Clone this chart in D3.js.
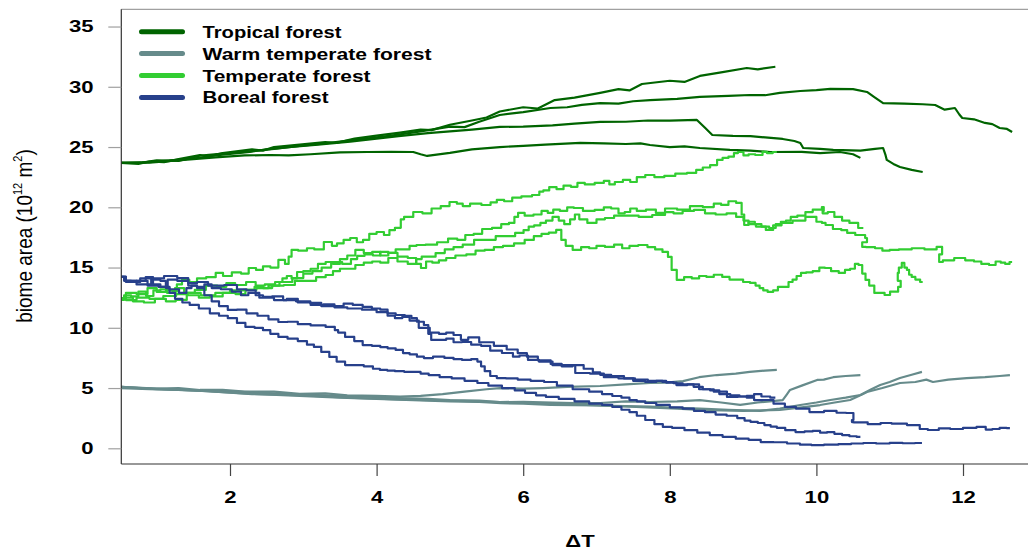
<!DOCTYPE html>
<html><head><meta charset="utf-8">
<script src="https://cdn.jsdelivr.net/npm/d3@7"></script>
<style>body{margin:0;background:#fff} svg{display:block}</style>
</head><body><svg id="c" width="1028" height="550"></svg>
<script>
// ---------- data ----------
const biomeNames = ["Tropical forest", "Warm temperate forest", "Temperate forest", "Boreal forest"];
const xTicks = [2, 4, 6, 8, 10, 12];
const yTicks = [0, 5, 10, 15, 20, 25, 30, 35];
const xLabel = "\u0394T";

const tropicalA = [[0.51,23.68],[0.75,23.6],[0.9,23.8],[1.1,23.75],[1.3,24.0],[1.59,24.34],[1.7,24.2],[1.9,24.5],[2.3,24.8],[2.45,24.7],[2.6,25.0],[2.95,25.2],[3.3,25.4],[3.45,25.35],[3.7,25.7],[4.0,25.95],[4.32,26.2],[4.6,26.45],[4.75,26.4],[5.0,26.85],[5.3,27.2],[5.5,27.45],[5.68,27.95],[6.0,28.3],[6.2,28.2],[6.43,28.9],[6.7,29.1],[7.05,29.5],[7.3,29.8],[7.45,29.7],[7.62,30.23],[8.0,30.5],[8.2,30.4],[8.41,30.9],[8.7,31.2],[9.05,31.56],[9.2,31.45],[9.44,31.66]];
const tropicalB = [[0.51,23.68],[0.8,23.7],[1.0,23.9],[1.3,23.85],[1.6,24.3],[1.9,24.45],[2.2,24.6],[2.6,24.85],[2.95,25.1],[3.3,25.3],[3.5,25.45],[3.8,25.65],[4.2,25.95],[4.6,26.3],[5.0,26.7],[5.2,26.65],[5.4,27.1],[5.68,27.66],[6.0,27.9],[6.37,28.24],[6.6,28.3],[6.8,28.5],[7.05,28.65],[7.3,28.6],[7.5,28.8],[7.73,28.9],[8.1,29.0],[8.41,29.16],[8.8,29.25],[9.09,29.32],[9.3,29.3],[9.5,29.5],[9.78,29.65],[10.0,29.72],[10.19,29.82],[10.5,29.8],[10.69,29.57],[10.8,29.1],[10.91,28.65],[11.2,28.6],[11.45,28.55],[11.62,28.49],[11.75,28.1],[11.89,28.24],[11.95,27.7],[11.99,27.41],[12.15,27.3],[12.3,27.0],[12.4,26.9],[12.5,26.58],[12.6,26.5],[12.67,26.25]];
const tropicalC = [[0.51,23.68],[0.9,23.75],[1.2,23.9],[1.5,24.05],[1.8,24.3],[2.27,24.6],[2.5,24.8],[2.8,25.0],[3.2,25.2],[3.64,25.45],[4.0,25.7],[4.3,25.9],[4.7,26.15],[5.0,26.3],[5.3,26.45],[5.68,26.67],[6.0,26.7],[6.4,26.8],[6.7,26.95],[7.05,27.08],[7.4,27.1],[7.7,27.2],[8.0,27.2],[8.37,27.25],[8.48,26.6],[8.58,26.0],[8.86,25.92],[9.1,25.9],[9.3,25.8],[9.54,25.67],[9.7,25.5],[9.78,25.34],[9.82,24.92],[10.05,24.85],[10.23,24.76],[10.6,24.7],[10.8,24.85],[10.91,24.92],[10.94,24.4],[10.96,23.93],[11.05,23.6],[11.14,23.34],[11.3,23.1],[11.45,22.93]];
const tropicalD = [[0.51,23.68],[0.9,23.7],[1.2,23.85],[1.5,24.0],[1.8,24.15],[2.2,24.3],[2.55,24.34],[2.8,24.3],[3.1,24.4],[3.5,24.55],[3.87,24.59],[4.2,24.6],[4.5,24.59],[4.6,24.4],[4.69,24.26],[5.0,24.51],[5.3,24.8],[5.68,25.0],[6.0,25.1],[6.3,25.2],[6.78,25.34],[7.1,25.3],[7.4,25.25],[7.6,25.3],[7.73,25.17],[8.0,25.0],[8.2,25.05],[8.41,24.92],[8.82,24.76],[9.1,24.7],[9.37,24.59],[9.8,24.6],[10.05,24.5],[10.32,24.59],[10.5,24.4],[10.6,24.1]];

const warmA = [[0.51,5.09],[0.8,5.0],[1.0,4.95],[1.3,5.0],[1.59,4.84],[1.9,4.85],[2.2,4.7],[2.6,4.7],[2.95,4.51],[3.3,4.55],[3.6,4.4],[4.0,4.35],[4.32,4.3],[4.6,4.35],[4.9,4.5],[5.2,4.7],[5.5,4.9],[5.68,5.0],[6.0,4.95],[6.27,5.0],[6.6,5.1],[7.05,5.17],[7.4,5.3],[7.73,5.42],[7.95,5.45],[8.18,5.58],[8.4,5.9],[8.64,6.08],[8.9,6.2],[9.09,6.34],[9.3,6.45],[9.46,6.5]];
const warmB = [[0.51,5.0],[0.9,4.9],[1.3,4.85],[1.8,4.75],[2.27,4.67],[2.8,4.5],[3.3,4.4],[3.8,4.3],[4.32,4.17],[4.7,4.1],[5.0,4.0],[5.4,3.95],[5.68,3.84],[6.0,3.85],[6.4,3.8],[6.7,3.75],[7.05,3.76],[7.4,3.9],[7.73,3.84],[8.1,3.9],[8.41,4.0],[8.7,3.8],[8.96,3.6],[9.2,3.8],[9.54,4.0],[9.6,4.5],[9.64,4.84],[9.8,5.2],[10.01,5.67],[10.1,5.7],[10.23,5.9],[10.4,6.0],[10.6,6.08]];
const warmC = [[0.51,5.09],[1.0,4.9],[1.5,4.8],[2.2,4.55],[2.95,4.34],[3.5,4.2],[4.0,4.1],[4.5,4.0],[5.0,3.9],[5.4,3.85],[5.7,3.75],[6.0,3.7],[6.37,3.6],[7.0,3.55],[7.4,3.5],[7.73,3.45],[8.1,3.35],[8.41,3.3],[8.8,3.2],[9.23,3.1],[9.5,3.3],[9.78,3.59],[10.0,3.8],[10.19,4.01],[10.4,4.2],[10.6,4.42],[10.75,4.9],[10.87,5.25],[11.0,5.5],[11.14,5.83],[11.3,6.1],[11.44,6.34]];
const warmD = [[0.51,5.09],[1.0,4.95],[1.7,4.75],[2.3,4.5],[2.95,4.42],[3.6,4.2],[4.3,4.05],[5.0,3.95],[5.68,3.83],[6.4,3.7],[7.05,3.55],[7.7,3.4],[8.1,3.3],[8.41,3.18],[9.0,3.1],[9.5,3.18],[9.8,3.4],[10.05,3.59],[10.25,3.8],[10.46,4.01],[10.6,4.4],[10.69,4.67],[10.9,5.0],[11.14,5.42],[11.35,5.5],[11.5,5.7],[11.59,5.5],[11.8,5.7],[12.05,5.83],[12.3,5.9],[12.5,6.0],[12.64,6.08]];

const temperateA = [[0.51,12.47],[0.6,12.7],[0.7,12.6],[0.8,13.0],[0.91,12.64],[1.0,13.1],[1.1,13.2],[1.18,12.9],[1.25,13.0],[1.3,13.6],[1.39,13.97],[1.5,13.8],[1.6,14.1],[1.75,14.2],[1.86,14.55],[1.95,14.3],[2.1,14.6],[2.2,14.5],[2.31,14.96],[2.4,14.8],[2.5,15.1],[2.6,15.0],[2.72,15.63],[2.78,15.3],[2.82,15.9],[2.86,16.46],[3.0,16.4],[3.1,16.6],[3.2,16.5],[3.36,17.12],[3.42,16.8],[3.5,17.0],[3.6,17.3],[3.68,17.45],[3.78,17.1],[3.85,17.3],[3.95,17.8],[4.05,17.95],[4.15,17.7],[4.2,18.1],[4.3,18.3],[4.36,18.7],[4.3,19.0],[4.45,19.2],[4.55,19.61],[4.7,19.5],[4.8,19.9],[4.95,20.1],[5.04,20.44],[5.15,20.3],[5.2,20.1],[5.35,20.3],[5.51,20.19],[5.6,20.4],[5.68,20.61],[5.8,20.5],[5.9,20.8],[6.05,20.9],[6.19,21.02],[6.25,21.3],[6.3,21.4],[6.41,21.68],[6.5,21.5],[6.6,21.8],[6.7,21.7],[6.78,22.02],[6.9,21.9],[7.05,22.02],[7.15,22.2],[7.2,21.9],[7.3,22.1],[7.42,22.27],[7.5,22.1],[7.6,22.5],[7.73,22.68],[7.85,22.5],[8.0,22.6],[8.15,22.8],[8.32,22.85],[8.4,23.1],[8.5,23.3],[8.6,23.5],[8.69,23.93],[8.75,24.1],[8.85,24.2],[8.9,24.5],[8.96,24.59],[9.05,24.3],[9.1,24.4],[9.23,24.34],[9.3,24.6],[9.35,24.5],[9.46,24.59]];
const temperateB = [[0.51,12.47],[0.65,12.9],[0.8,12.8],[0.95,13.3],[1.05,12.98],[1.2,13.1],[1.3,13.3],[1.45,12.9],[1.59,13.14],[1.75,13.5],[1.9,13.4],[2.0,13.7],[2.14,13.55],[2.3,13.8],[2.4,13.5],[2.55,13.6],[2.68,13.8],[2.75,14.1],[2.8,14.3],[2.88,14.1],[2.95,14.63],[3.05,14.7],[3.15,14.9],[3.25,15.3],[3.36,15.46],[3.45,15.3],[3.55,15.7],[3.65,16.0],[3.77,16.46],[3.88,16.2],[4.0,16.3],[4.1,16.0],[4.22,16.21],[4.3,16.5],[4.4,16.5],[4.5,16.8],[4.59,16.87],[4.75,16.9],[4.9,17.1],[5.05,17.4],[5.15,17.3],[5.27,17.7],[5.38,17.8],[5.5,18.2],[5.65,18.3],[5.75,18.6],[5.86,18.7],[5.9,19.2],[5.96,19.53],[6.08,19.3],[6.2,19.4],[6.3,19.7],[6.37,19.53],[6.45,19.8],[6.55,19.7],[6.65,20.0],[6.73,19.94],[6.9,19.7],[7.05,19.78],[7.15,20.0],[7.25,19.9],[7.35,19.5],[7.42,19.61],[7.5,19.9],[7.6,19.7],[7.75,19.8],[7.87,19.53],[8.0,19.9],[8.2,19.8],[8.35,20.1],[8.55,20.02],[8.65,20.3],[8.75,20.2],[8.85,20.5],[8.96,20.36],[9.0,19.4],[9.03,18.53],[9.12,18.8],[9.2,18.6],[9.3,18.4],[9.41,18.28],[9.48,18.6],[9.55,18.8],[9.62,18.9],[9.68,19.2],[9.8,19.3],[9.9,19.6],[10.0,19.8],[10.15,20.02],[10.05,19.7],[10.12,19.5],[10.19,19.61],[10.3,19.2],[10.4,18.9],[10.5,18.7],[10.64,18.28]];
const temperateC = [[0.51,12.31],[0.6,12.5],[0.75,12.2],[0.9,12.1],[1.05,12.4],[1.2,12.2],[1.32,12.31],[1.5,12.7],[1.65,12.5],[1.8,12.6],[2.0,12.9],[2.15,12.8],[2.27,13.14],[2.45,13.3],[2.6,13.5],[2.75,13.8],[2.95,14.13],[3.05,14.5],[3.2,14.7],[3.3,15.0],[3.46,15.46],[3.6,15.3],[3.7,15.7],[3.77,15.96],[3.9,16.1],[4.0,16.0],[4.1,16.3],[4.22,16.21],[4.35,15.9],[4.5,15.79],[4.58,15.3],[4.63,14.96],[4.72,15.5],[4.8,15.4],[4.9,15.6],[5.0,15.79],[5.15,16.0],[5.3,16.1],[5.4,16.4],[5.55,16.46],[5.65,16.7],[5.8,16.8],[5.95,17.0],[6.09,17.29],[6.2,17.6],[6.3,17.8],[6.4,17.9],[6.5,18.12],[6.54,17.29],[6.62,16.8],[6.73,16.46],[6.85,16.7],[6.95,16.6],[7.05,16.8],[7.18,16.71],[7.3,16.9],[7.4,16.6],[7.5,16.8],[7.64,16.87],[7.75,16.7],[7.85,16.5],[7.95,16.3],[8.0,15.88],[8.05,14.8],[8.14,13.97],[8.25,14.2],[8.35,14.1],[8.45,14.3],[8.55,14.22],[8.65,14.4],[8.78,14.22],[8.85,14.0],[8.95,14.0],[9.05,13.8],[9.14,13.72],[9.2,13.5],[9.25,13.3],[9.3,13.1],[9.37,12.98],[9.45,13.1],[9.5,13.4],[9.59,13.39],[9.65,13.8],[9.7,14.0],[9.76,14.3],[9.82,14.55],[9.9,14.6],[10.0,14.7],[10.08,15.0],[10.15,14.96],[10.25,14.7],[10.36,14.55],[10.42,14.8],[10.5,14.9],[10.55,15.3],[10.6,15.21],[10.65,14.5],[10.69,13.97],[10.75,13.5],[10.83,12.89],[10.9,12.9],[10.96,12.72],[11.05,13.0],[11.18,13.39],[11.12,13.9],[11.1,14.55],[11.15,15.0],[11.18,15.38],[11.22,15.0],[11.25,14.8],[11.28,14.4],[11.32,14.22],[11.38,14.0],[11.45,13.8]];
const temperateD = [[0.51,12.47],[0.65,12.3],[0.8,12.5],[1.0,12.4],[1.18,12.64],[1.35,12.8],[1.5,12.9],[1.7,12.7],[1.9,12.9],[2.1,13.1],[2.27,13.14],[2.4,13.4],[2.5,13.3],[2.65,13.5],[2.82,13.55],[2.95,13.9],[3.1,13.9],[3.25,14.2],[3.36,14.38],[3.45,14.7],[3.55,14.9],[3.65,14.9],[3.77,15.21],[3.88,15.4],[4.0,15.5],[4.1,15.4],[4.22,15.79],[4.35,15.5],[4.5,15.3],[4.58,15.7],[4.65,15.9],[4.75,15.9],[4.86,16.2],[5.0,16.5],[5.1,16.7],[5.25,16.9],[5.41,17.29],[5.55,17.3],[5.7,17.6],[5.82,17.6],[5.96,17.87],[6.05,18.1],[6.1,18.4],[6.2,18.5],[6.27,18.7],[6.35,18.9],[6.45,19.2],[6.52,18.9],[6.6,18.6],[6.68,19.0],[6.73,19.4],[6.8,19.0],[6.95,18.7],[7.05,19.0],[7.18,19.11],[7.3,19.3],[7.5,19.3],[7.65,19.2],[7.87,19.36],[8.0,19.6],[8.1,19.5],[8.25,19.7],[8.41,19.78],[8.55,19.5],[8.7,19.4],[8.85,19.5],[8.96,19.2],[9.05,18.9],[9.1,18.6],[9.25,18.4],[9.37,18.12],[9.45,18.5],[9.6,18.7],[9.75,18.9],[9.95,19.2],[10.05,18.8],[10.1,18.7],[10.15,18.53],[10.3,18.2],[10.38,18.1],[10.46,17.87],[10.6,17.7],[10.73,17.45],[10.65,17.1],[10.6,16.71],[10.75,16.7],[10.85,16.6],[10.95,16.4],[11.05,16.46],[11.2,16.5],[11.4,16.6],[11.55,16.5],[11.73,16.71],[11.7,16.1],[11.65,15.46],[11.8,15.6],[11.96,15.79],[12.1,15.6],[12.2,15.5],[12.3,15.3],[12.41,15.21],[12.48,15.5],[12.55,15.4],[12.6,15.3],[12.67,15.46]];

const borealA = [[0.51,14.22],[0.6,13.9],[0.7,13.8],[0.85,14.1],[1.0,13.6],[1.1,13.4],[1.2,14.0],[1.36,13.9],[1.5,13.5],[1.6,13.4],[1.7,13.6],[1.8,13.3],[1.95,13.2],[2.1,13.0],[2.2,12.7],[2.3,12.9],[2.5,12.5],[2.7,12.3],[2.85,12.4],[3.0,12.1],[3.2,11.9],[3.35,11.95],[3.5,11.7],[3.7,11.6],[3.9,11.5],[4.1,11.3],[4.2,11.0],[4.3,10.8],[4.4,10.9],[4.5,10.6],[4.65,10.0],[4.8,9.6],[4.9,9.5],[5.0,9.6],[5.1,9.4],[5.2,9.0],[5.3,9.2],[5.5,8.8],[5.7,8.5],[5.85,8.2],[6.0,7.9],[6.1,7.6],[6.3,7.3],[6.45,7.0],[6.6,6.8],[6.75,6.9],[6.9,6.6],[7.0,6.3],[7.1,6.1],[7.3,6.0],[7.45,5.8],[7.6,5.7],[7.8,5.6],[8.0,5.5],[8.1,5.4],[8.25,5.3],[8.4,5.1],[8.5,4.9],[8.6,4.8],[8.75,4.5],[8.9,4.4],[9.0,4.3],[9.1,4.35],[9.2,4.5],[9.3,4.3],[9.44,4.2]];
const borealB = [[0.51,14.22],[0.65,13.8],[0.8,13.9],[0.95,13.5],[1.1,13.4],[1.25,13.2],[1.36,12.89],[1.45,13.3],[1.5,13.5],[1.6,13.3],[1.7,12.7],[1.8,12.2],[1.9,11.8],[2.04,11.48],[2.15,11.5],[2.3,11.2],[2.45,11.0],[2.6,10.7],[2.72,10.48],[2.85,10.5],[3.0,10.3],[3.2,10.2],[3.41,10.07],[3.45,9.8],[3.5,9.6],[3.64,9.24],[3.75,8.9],[3.87,8.57],[4.0,8.5],[4.1,8.4],[4.2,8.3],[4.32,8.16],[4.4,7.9],[4.5,7.8],[4.6,7.6],[4.69,7.49],[4.85,7.6],[5.0,7.5],[5.1,7.4],[5.23,7.33],[5.35,7.4],[5.4,7.2],[5.45,6.8],[5.5,6.4],[5.6,6.0],[5.68,5.83],[5.85,5.8],[6.0,5.7],[6.2,5.6],[6.37,5.5],[6.55,5.2],[6.8,4.9],[7.0,4.7],[7.15,4.5],[7.28,4.34],[7.4,4.2],[7.5,4.0],[7.6,3.9],[7.73,3.76],[7.9,3.6],[8.1,3.4],[8.25,3.3],[8.41,3.1],[8.55,3.0],[8.7,2.8],[8.85,2.7],[8.99,2.51],[9.05,2.3],[9.15,2.2],[9.25,2.1],[9.33,1.93],[9.42,1.8],[9.5,1.7],[9.65,1.5],[9.78,1.35],[9.9,1.4],[10.0,1.45],[10.1,1.3],[10.19,1.35],[10.3,1.2],[10.4,1.1],[10.5,1.0],[10.6,0.94]];
const borealC = [[0.51,14.22],[0.65,13.9],[0.8,13.6],[0.9,13.6],[1.0,14.0],[1.1,13.9],[1.15,13.3],[1.2,12.9],[1.3,12.4],[1.4,12.1],[1.5,11.9],[1.65,11.6],[1.8,11.2],[1.9,11.0],[2.04,10.8],[2.15,10.4],[2.27,10.07],[2.4,10.0],[2.5,9.8],[2.6,9.5],[2.72,9.24],[2.85,9.1],[3.0,8.9],[3.1,8.6],[3.19,8.41],[3.3,8.0],[3.41,7.58],[3.5,7.2],[3.64,6.91],[3.75,6.9],[3.9,6.8],[4.0,6.6],[4.09,6.5],[4.2,6.45],[4.3,6.4],[4.45,6.35],[4.55,6.34],[4.65,6.2],[4.77,6.08],[4.95,5.9],[5.1,5.8],[5.3,5.6],[5.45,5.42],[5.6,5.2],[5.82,5.0],[5.95,4.8],[6.1,4.6],[6.25,4.4],[6.37,4.26],[6.6,4.1],[6.8,3.9],[7.0,3.7],[7.15,3.6],[7.28,3.43],[7.4,3.2],[7.5,3.0],[7.6,2.7],[7.73,2.35],[7.85,2.0],[7.96,1.77],[8.1,1.7],[8.3,1.5],[8.45,1.3],[8.64,1.1],[8.8,0.95],[9.0,0.8],[9.15,0.7],[9.33,0.52],[9.5,0.5],[9.7,0.4],[9.85,0.3],[10.01,0.27],[10.2,0.3],[10.4,0.35],[10.55,0.4],[10.73,0.44],[10.9,0.4],[11.1,0.45],[11.25,0.42],[11.44,0.44]];
const borealD = [[0.51,14.22],[0.65,13.9],[0.8,13.9],[0.9,14.2],[1.0,14.1],[1.2,14.3],[1.36,14.13],[1.5,13.7],[1.6,13.8],[1.8,13.5],[2.04,13.55],[2.15,13.2],[2.3,13.1],[2.4,12.7],[2.5,12.56],[2.65,12.6],[2.8,12.3],[3.0,12.2],[3.19,12.06],[3.3,11.8],[3.5,11.8],[3.6,12.0],[3.75,11.9],[3.87,11.73],[4.0,11.6],[4.1,11.5],[4.2,11.2],[4.32,11.06],[4.45,11.0],[4.5,10.8],[4.6,10.5],[4.69,10.23],[4.72,9.5],[4.77,8.99],[4.9,9.0],[5.0,9.1],[5.1,8.8],[5.23,8.82],[5.35,8.6],[5.5,8.5],[5.6,8.1],[5.82,7.91],[5.9,7.6],[6.0,7.7],[6.13,7.33],[6.3,7.2],[6.5,6.9],[6.6,6.9],[6.82,6.25],[7.0,6.2],[7.2,5.9],[7.4,5.8],[7.6,5.6],[7.73,5.5],[7.9,5.6],[8.0,5.45],[8.18,5.25],[8.3,5.3],[8.5,4.9],[8.7,4.7],[8.86,4.26],[9.0,4.3],[9.1,4.2],[9.2,4.0],[9.33,4.01],[9.5,3.7],[9.64,3.43],[9.8,3.3],[10.01,3.01],[10.2,3.1],[10.35,2.95],[10.46,2.93],[10.55,2.35],[10.42,2.18],[10.6,2.15],[10.8,2.0],[10.95,2.1],[11.1,2.05],[11.37,1.93],[11.45,1.6],[11.59,1.52],[11.75,1.65],[11.9,1.6],[12.1,1.7],[12.27,1.77],[12.35,1.55],[12.45,1.6],[12.55,1.7],[12.64,1.68]];

// ---------- styles ----------
const biomeColors = ["#006400", "#668B8B", "#32CD32", "#27408B"];
const biomeCurves = [d3.curveLinear, d3.curveLinear, d3.curveStep, d3.curveStep];
const FONT = "'Liberation Sans', Arial, Helvetica, sans-serif";

// ---------- build ----------
const svg = d3.select("#c");
const L = 121.3, T = 9.3, B = 464, R = 1100;
const x = d3.scaleLinear().domain([0.517, 13.0]).range([L, L + 73.3 * (13.0 - 0.517)]);
const y = d3.scaleLinear().domain([-1.303, 36.43]).range([B, T]);

svg.append("defs").append("clipPath").attr("id", "clip")
  .append("rect").attr("x", L).attr("y", T).attr("width", R - L).attr("height", B - T);

const runs = [
  {c: 0, d: tropicalA}, {c: 0, d: tropicalB}, {c: 0, d: tropicalC}, {c: 0, d: tropicalD},
  {c: 2, d: temperateA}, {c: 2, d: temperateB}, {c: 2, d: temperateC}, {c: 2, d: temperateD},
  {c: 1, d: warmA}, {c: 1, d: warmB}, {c: 1, d: warmC}, {c: 1, d: warmD},
  {c: 3, d: borealA}, {c: 3, d: borealB}, {c: 3, d: borealC}, {c: 3, d: borealD}
];
const lineFor = c => d3.line().x(d => x(d[0])).y(d => y(d[1])).curve(biomeCurves[c]);
svg.append("g").attr("clip-path", "url(#clip)")
  .selectAll("path").data(runs).join("path")
  .attr("d", r => lineFor(r.c)(r.d)).attr("fill", "none")
  .attr("stroke", r => biomeColors[r.c]).attr("stroke-width", 2.2)
  .attr("stroke-linejoin", "round");

// frame
svg.append("line").attr("x1", L).attr("x2", 1028).attr("y1", T).attr("y2", T).attr("stroke", "#a0a0a0").attr("stroke-width", 1.2);
svg.append("line").attr("x1", L).attr("x2", L).attr("y1", T).attr("y2", B).attr("stroke", "#333").attr("stroke-width", 1.2);
svg.append("line").attr("x1", L).attr("x2", 1028).attr("y1", B).attr("y2", B).attr("stroke", "#333").attr("stroke-width", 1.2);

// y axis
const gy = svg.append("g").attr("transform", `translate(${L},0)`)
  .call(d3.axisLeft(y).tickValues(yTicks).tickSize(13).tickSizeOuter(0).tickPadding(14.8));
gy.select(".domain").remove();
gy.selectAll(".tick line").attr("stroke", "#a0a0a0").attr("stroke-width", 1.2);
gy.selectAll(".tick text").attr("font-family", FONT).attr("font-size", 17).attr("font-weight", "bold").attr("fill", "#000");

// x axis
const gx = svg.append("g").attr("transform", `translate(0,${B})`)
  .call(d3.axisBottom(x).tickValues(xTicks).tickSize(12).tickSizeOuter(0).tickPadding(15));
gx.select(".domain").remove();
gx.selectAll(".tick line").attr("stroke", "#444").attr("stroke-width", 1.2);
gx.selectAll(".tick text").attr("font-family", FONT).attr("font-size", 17).attr("font-weight", "bold").attr("fill", "#000");

// stretch tick labels horizontally like the reference
svg.selectAll(".tick text").each(function () {
  const w = this.getComputedTextLength();
  d3.select(this).attr("textLength", w * 1.3).attr("lengthAdjust", "spacingAndGlyphs");
});

// x title
const xt = svg.append("text").attr("x", 580).attr("y", 547).attr("text-anchor", "middle")
  .attr("font-family", FONT).attr("font-size", 17).attr("font-weight", "bold").text(xLabel);
xt.attr("textLength", xt.node().getComputedTextLength() * 1.3).attr("lengthAdjust", "spacingAndGlyphs");

// y title
const yt = svg.append("text").attr("transform", "translate(31.5,236) scale(1.2,1) rotate(-90)")
  .attr("text-anchor", "middle").attr("font-family", FONT).attr("font-size", 19).attr("fill", "#000");
yt.append("tspan").text("biome area (10");
yt.append("tspan").attr("font-size", 11).attr("dy", -8).text("12");
yt.append("tspan").attr("dy", 8).text(" m");
yt.append("tspan").attr("font-size", 11).attr("dy", -8).text("2");
yt.append("tspan").attr("dy", 8).text(")");

// legend
const legendWidths = [139, 229, 168, 126];
const lg = svg.append("g");
biomeNames.forEach((n, i) => {
  const ly = 31.7 + i * 21.9;
  lg.append("line").attr("x1", 141.5).attr("x2", 182.5).attr("y1", ly).attr("y2", ly)
    .attr("stroke", biomeColors[i]).attr("stroke-width", 5).attr("stroke-linecap", "round");
  lg.append("text").attr("x", 202.5).attr("y", ly + 6)
    .attr("font-family", FONT).attr("font-size", 17).attr("font-weight", "bold").attr("fill", "#000")
    .attr("textLength", legendWidths[i]).attr("lengthAdjust", "spacingAndGlyphs").text(n);
});
</script></body></html>
